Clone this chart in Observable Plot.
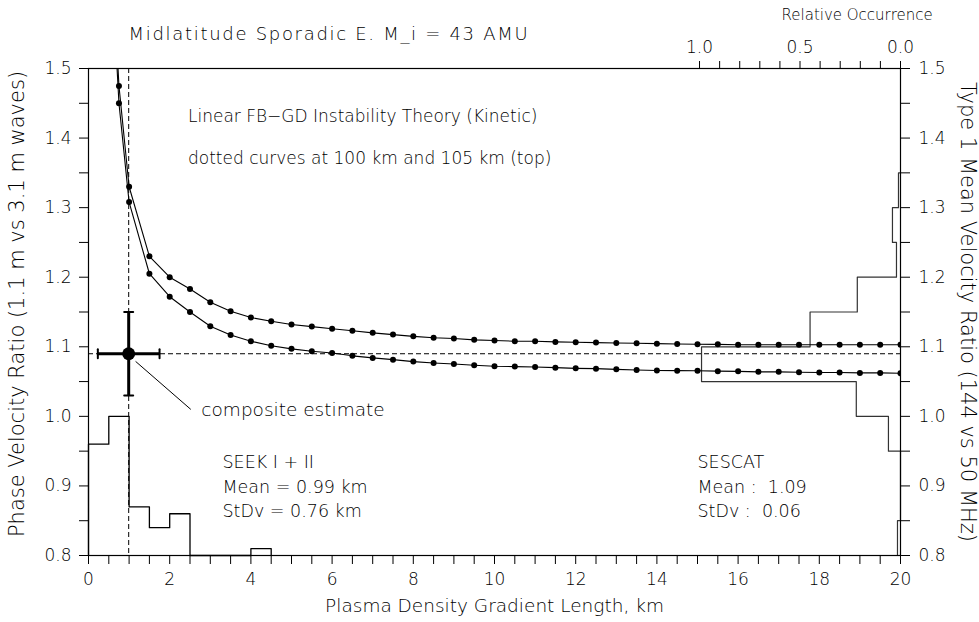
<!DOCTYPE html>
<html><head><meta charset="utf-8">
<script src="https://cdn.jsdelivr.net/npm/d3@7"></script>
<script src="https://cdn.jsdelivr.net/npm/@observablehq/plot@0.6"></script>
<style>body{margin:0;background:#fff} svg{display:block}</style>
</head><body><div id="chart"></div>
<script>
// Theory curves (Linear FB-GD kinetic): gradient length (km) vs phase velocity ratio
const theoryX = [0.5, 0.75, 1, 1.5, 2, 2.5, 3, 3.5, 4, 4.5, 5, 5.5, 6, 6.5, 7, 7.5, 8, 8.5, 9, 9.5, 10,
  10.5, 11, 11.5, 12, 12.5, 13, 13.5, 14, 14.5, 15, 15.5, 16, 16.5, 17, 17.5, 18, 18.5, 19, 19.5, 20];
const curve105 = [1.75, 1.475, 1.330, 1.230, 1.200, 1.183, 1.164, 1.151, 1.142, 1.1367, 1.132, 1.129, 1.126,
  1.123, 1.120, 1.1175, 1.115, 1.113, 1.112, 1.110, 1.109, 1.108, 1.108, 1.107, 1.1065, 1.106, 1.1055, 1.105,
  1.1045, 1.104, 1.1037, 1.1035, 1.103, 1.103, 1.103, 1.103, 1.103, 1.103, 1.103, 1.103, 1.103];
const curve100 = [1.72, 1.450, 1.308, 1.205, 1.172, 1.150, 1.1295, 1.117, 1.108, 1.1015, 1.097, 1.0935, 1.091,
  1.087, 1.084, 1.0815, 1.0787, 1.0767, 1.0753, 1.0734, 1.072, 1.0715, 1.071, 1.070, 1.069, 1.0686, 1.0676,
  1.0667, 1.066, 1.0657, 1.0655, 1.065, 1.0647, 1.064, 1.064, 1.0635, 1.063, 1.063, 1.0625, 1.0625, 1.062];

// SEEK I + II histogram of gradient length (relative occurrence per 0.5 km bin)
const seekBinStart = [0, 0.5, 1, 1.5, 2, 2.5, 3, 3.5, 4];
const seekOcc = [0.8, 1.0, 0.35, 0.2, 0.3, 0, 0, 0, 0.05];
const seekBinWidth = 0.5;

// SESCAT histogram of velocity ratio (relative occurrence per 0.05 bin)
const sescatBinStart = [0.80, 0.85, 0.90, 0.95, 1.00, 1.05, 1.10, 1.15, 1.20, 1.25, 1.30];
const sescatOcc = [0.015, 0, 0, 0.06, 0.22, 0.99, 0.45, 0.215, 0.02, 0.04, 0.01];
const sescatBinWidth = 0.05;

// Composite estimate
const compX = 0.99, compSX = 0.76, compY = 1.09, compSY = 0.06;

// Axes
const yTicks = [0.8, 0.85, 0.9, 0.95, 1.0, 1.05, 1.1, 1.15, 1.2, 1.25, 1.3, 1.35, 1.4, 1.45, 1.5];
const xTicks = [0,0.5,1,1.5,2,2.5,3,3.5,4,4.5,5,5.5,6,6.5,7,7.5,8,8.5,9,9.5,10,10.5,11,11.5,12,12.5,13,13.5,14,14.5,15,15.5,16,16.5,17,17.5,18,18.5,19,19.5,20];
const occTicks = [0, 0.1, 0.2, 0.3, 0.4, 0.5, 0.6, 0.7, 0.8, 0.9, 1.0];
const occLabels = [0, 0.5, 1.0];
const occOrigin = 20, occSpan = 4.95; // relative occurrence 0 at x=20, 1.0 at x=15.05

// Text
const titleText = "Midlatitude Sporadic E. M_i = 43 AMU";
const xLabel = "Plasma Density Gradient Length, km";
const yLabelLeft = "Phase Velocity Ratio (1.1 m vs 3.1 m waves)";
const yLabelRight = "Type 1 Mean Velocity Ratio (144 vs 50 MHz)";
const occLabel = "Relative Occurrence";
const notes = [
  {x: 2.45, y: 1.431, text: "Linear FB\u2212GD Instability Theory (Kinetic)", size: 17},
  {x: 2.45, y: 1.371, text: "dotted curves at 100 km and 105 km (top)", size: 17},
  {x: 2.78, y: 1.0086, text: "composite estimate", size: 18.5},
  {x: 3.3, y: 0.934, text: "SEEK I + II", size: 17.5},
  {x: 3.3, y: 0.898, text: "Mean = 0.99 km", size: 17.5},
  {x: 3.3, y: 0.863, text: "StDv = 0.76 km", size: 17.5},
  {x: 15.0, y: 0.934, text: "SESCAT", size: 17.5},
  {x: 15.0, y: 0.898, text: "Mean :  1.09", size: 17.5},
  {x: 15.0, y: 0.863, text: "StDv :  0.06", size: 17.5}
];
const leader = [{x1: 1.16, y1: 1.079, x2: 2.52, y2: 1.010}];

// Derived tables
const occToX = r => occOrigin - r * occSpan;
const c105 = theoryX.map((x, i) => ({x, y: curve105[i]}));
const c100 = theoryX.map((x, i) => ({x, y: curve100[i]}));
const seekPath = [{x: 0, y: 0.8}].concat(seekBinStart.flatMap((x0, i) => {
  const y = 0.8 + 0.2 * seekOcc[i];
  return [{x: x0, y}, {x: x0 + seekBinWidth, y}];
}));
seekPath.push({x: seekBinStart[seekBinStart.length - 1] + seekBinWidth, y: 0.8});
const sescatPath = sescatBinStart.flatMap((y0, i) => {
  const x = occToX(sescatOcc[i]);
  return [{x, y: y0}, {x, y: y0 + sescatBinWidth}];
});
sescatPath.push({x: occOrigin, y: sescatBinStart[sescatBinStart.length - 1] + sescatBinWidth});

const lineShape = {draw(ctx, l) { ctx.moveTo(0, 0); ctx.lineTo(0, -l); }};
const isMajorY = d => Math.abs(Math.round(d * 10) - d * 10) < 1e-6;
const isEvenX = d => Math.abs(d - Math.round(d)) < 1e-6 && Math.round(d) % 2 === 0;

const font = "DejaVu Sans";
const chart = Plot.plot({
  width: 979, height: 622,
  marginLeft: 88, marginRight: 79, marginTop: 68, marginBottom: 67,
  x: {domain: [0, 20]},
  y: {domain: [0.8, 1.5]},
  style: {fontFamily: font, fontSize: "17px", fontWeight: 300, color: "black", background: "white"},
  marks: [
    // histograms
    Plot.line(seekPath, {x: "x", y: "y", stroke: "black", strokeWidth: 1.3}),
    Plot.line(sescatPath, {x: "x", y: "y", stroke: "#333", strokeWidth: 1.2}),
    // dashed composite guides
    Plot.ruleX([compX], {stroke: "black", strokeWidth: 1, strokeDasharray: "5,3"}),
    Plot.ruleY([compY], {stroke: "black", strokeWidth: 1, strokeDasharray: "5,3"}),
    // theory curves
    Plot.line(c105, {x: "x", y: "y", stroke: "black", strokeWidth: 1.1, clip: true}),
    Plot.line(c100, {x: "x", y: "y", stroke: "black", strokeWidth: 1.1, clip: true}),
    Plot.dot(c105, {x: "x", y: "y", r: 3, fill: "black", clip: true}),
    Plot.dot(c100, {x: "x", y: "y", r: 3, fill: "black", clip: true}),
    // composite estimate with error bars
    Plot.ruleY([compY], {x1: compX - compSX, x2: compX + compSX, stroke: "black", strokeWidth: 3}),
    Plot.ruleX([compX], {y1: compY - compSY, y2: compY + compSY, stroke: "black", strokeWidth: 3}),
    Plot.vector([compX - compSX, compX + compSX], {x: d => d, y: compY, length: 9, anchor: "middle", shape: lineShape, stroke: "black", strokeWidth: 2}),
    Plot.vector([compY - compSY, compY + compSY], {x: compX, y: d => d, length: 9, rotate: 90, anchor: "middle", shape: lineShape, stroke: "black", strokeWidth: 2}),
    Plot.dot([{x: compX, y: compY}], {x: "x", y: "y", r: 6.5, fill: "black"}),
    Plot.link(leader, {x1: "x1", y1: "y1", x2: "x2", y2: "y2", stroke: "black", strokeWidth: 1}),
    // annotations
    Plot.text(notes, {x: "x", y: "y", text: "text", fontSize: "size", textAnchor: "start", lineAnchor: "middle", fill: "black"}),
    // frame and axes
    Plot.frame({stroke: "black", strokeWidth: 1.2}),
    Plot.axisY(yTicks, {anchor: "left", tickSize: 9, tickPadding: 8, label: null, tickFormat: d => isMajorY(d) ? d.toFixed(1) : ""}),
    Plot.axisY(yTicks, {anchor: "right", tickSize: 9, tickPadding: 9, label: null, tickFormat: d => isMajorY(d) ? d.toFixed(1) : ""}),
    Plot.axisX(xTicks, {anchor: "bottom", tickSize: 9, tickPadding: 8, label: null, tickFormat: d => isEvenX(d) ? String(Math.round(d)) : ""}),
    Plot.axisX(occTicks.map(occToX), {anchor: "top", tickSize: 8, tickPadding: 8, label: null,
      tickFormat: x => { const r = (occOrigin - x) / occSpan; return occLabels.some(v => Math.abs(v - r) < 1e-6) ? r.toFixed(1) : ""; }}),
    // titles
    Plot.text([titleText], {frameAnchor: "top-left", dx: 40, dy: -34, textAnchor: "start", lineAnchor: "middle", fontSize: 18}),
    Plot.text([occLabel], {x: 17.07, frameAnchor: "top", dy: -53, textAnchor: "start", lineAnchor: "middle", fontSize: 15}),
    Plot.text([xLabel], {frameAnchor: "bottom", dy: 51, textAnchor: "middle", lineAnchor: "middle", fontSize: 18.5}),
    Plot.text([yLabelLeft], {frameAnchor: "left", dx: -71, dy: -8, rotate: -90, textAnchor: "middle", lineAnchor: "middle", fontSize: 21}),
    Plot.text([yLabelRight], {frameAnchor: "right", dx: 67, rotate: 90, textAnchor: "middle", lineAnchor: "middle", fontSize: 21})
  ]
});
// widen the title's letter spacing to match the reference's wide lettering
chart.querySelectorAll("text").forEach(t => {
  if (t.textContent === titleText) t.setAttribute("letter-spacing", "1.7");
});
document.getElementById("chart").append(chart);
</script>
</body></html>
